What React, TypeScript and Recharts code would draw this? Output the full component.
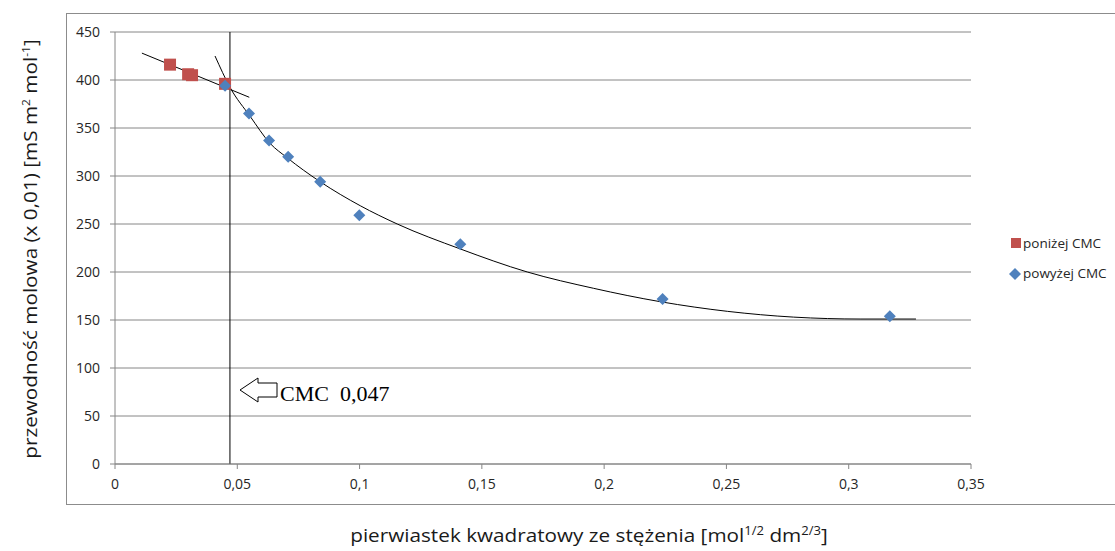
import {
  CartesianGrid,
  ComposedChart,
  Line,
  ReferenceLine,
  Scatter,
  XAxis,
  YAxis,
} from 'recharts'

// square root of concentration vs molar conductivity
const belowCmc = [
  { x: 0.0225, y: 416 },
  { x: 0.0299, y: 406 },
  { x: 0.0315, y: 405 },
  { x: 0.045, y: 396 },
]

const aboveCmc = [
  { x: 0.045, y: 394 },
  { x: 0.0548, y: 365 },
  { x: 0.063, y: 337 },
  { x: 0.0708, y: 320 },
  { x: 0.0839, y: 294 },
  { x: 0.0999, y: 259 },
  { x: 0.1412, y: 229 },
  { x: 0.2239, y: 172 },
  { x: 0.3168, y: 154 },
]

// trend lines
const belowTrend = [
  { x: 0.011, y: 428 },
  { x: 0.0549, y: 382 },
]

const aboveTrend = [
  { x: 0.0409, y: 425 },
  { x: 0.0471, y: 392 },
  { x: 0.0553, y: 362 },
  { x: 0.0634, y: 334 },
  { x: 0.0704, y: 319 },
  { x: 0.0839, y: 294 },
  { x: 0.1003, y: 269 },
  { x: 0.1154, y: 250 },
  { x: 0.1412, y: 224 },
  { x: 0.1686, y: 200 },
  { x: 0.1957, y: 183 },
  { x: 0.2231, y: 169 },
  { x: 0.2505, y: 159 },
  { x: 0.2775, y: 153 },
  { x: 0.305, y: 151 },
  { x: 0.3275, y: 151 },
]

const xTicks = [0, 0.05, 0.1, 0.15, 0.2, 0.25, 0.3, 0.35]
const yTicks = [0, 50, 100, 150, 200, 250, 300, 350, 400, 450]
const cmcValue = 0.047

const RED = '#C0504D'
const BLUE = '#4F81BD'
const AXIS = '#868686'
const FONT = '"Open Sans", sans-serif'

function SquareDot({ cx, cy }: { cx?: number; cy?: number }) {
  if (cx == null || cy == null) return null
  return <rect x={cx - 6} y={cy - 6} width={12} height={12} fill={RED} />
}

function DiamondDot({ cx, cy }: { cx?: number; cy?: number }) {
  if (cx == null || cy == null) return null
  const r = 6
  return <polygon points={`${cx},${cy - r} ${cx + r},${cy} ${cx},${cy + r} ${cx - r},${cy}`} fill={BLUE} />
}

const commaFormat = (v: number) => String(v).replace('.', ',')

export default function App() {
  return (
    <div style={{ position: 'absolute', left: 0, top: 0, width: 1115, height: 551, overflow: 'hidden', background: '#fff', fontFamily: FONT }}>
      <div style={{ position: 'absolute', left: 66, top: 13, width: 1100, height: 490, border: '1px solid #8c8c8c' }} />

      <div style={{ position: 'absolute', left: 0, top: 0 }}>
        <ComposedChart width={1115} height={551} margin={{ top: 32, right: 144, bottom: 0, left: 0 }}>
          <CartesianGrid horizontal vertical={false} stroke={AXIS} strokeWidth={1} />
          <XAxis
            dataKey="x"
            type="number"
            domain={[0, 0.35]}
            ticks={xTicks}
            tickFormatter={commaFormat}
            height={87}
            stroke={AXIS}
            tickSize={5}
            tickMargin={10}
            tick={{ fontSize: 14, fill: '#262626', fontFamily: FONT }}
          />
          <YAxis
            dataKey="y"
            type="number"
            domain={[0, 450]}
            ticks={yTicks}
            width={115}
            stroke={AXIS}
            tickSize={5}
            tickMargin={10}
            tick={{ fontSize: 14, fill: '#262626', fontFamily: FONT }}
          />
          <ReferenceLine x={cmcValue} stroke="#000" strokeWidth={1} />
          <Scatter data={belowCmc} dataKey="y" shape={<SquareDot />} isAnimationActive={false} />
          <Scatter data={aboveCmc} dataKey="y" shape={<DiamondDot />} isAnimationActive={false} />
          <Line data={belowTrend} dataKey="y" type="linear" dot={false} stroke="#000" strokeWidth={1} isAnimationActive={false} />
          <Line data={aboveTrend} dataKey="y" type="monotone" dot={false} stroke="#000" strokeWidth={1} isAnimationActive={false} />
        </ComposedChart>
      </div>

      {/* CMC annotation */}
      <svg style={{ position: 'absolute', left: 0, top: 0 }} width={1115} height={551}>
        <polygon points="240,390 258,378 258,383 277,383 277,397 258,397 258,402" fill="#fff" stroke="#000" strokeWidth={1} />
        <text x={280} y={401} fontFamily='"Liberation Serif", serif' fontSize={22} fill="#000" style={{ whiteSpace: 'pre' }}>
          CMC  0,047
        </text>
      </svg>

      {/* legend */}
      <div style={{ position: 'absolute', left: 1011, top: 238, width: 10, height: 10, background: RED }} />
      <div style={{ position: 'absolute', left: 1023, top: 234, fontSize: 13.5, color: '#262626', lineHeight: '18px' }}>poniżej CMC</div>
      <svg style={{ position: 'absolute', left: 1009, top: 268 }} width={12} height={12}>
        <polygon points="6,0 12,6 6,12 0,6" fill={BLUE} />
      </svg>
      <div style={{ position: 'absolute', left: 1023, top: 264, fontSize: 13.5, color: '#262626', lineHeight: '18px' }}>powyżej CMC</div>

      {/* axis titles */}
      <div
        style={{
          position: 'absolute',
          left: 30,
          top: 249,
          transform: 'translate(-50%, -50%) rotate(-90deg) scaleX(1.09)',
          whiteSpace: 'nowrap',
          fontSize: 19,
          color: '#1a1a1a',
        }}
      >
        przewodność molowa (x 0,01) [mS m<sup style={{ fontSize: 11 }}>2</sup> mol<sup style={{ fontSize: 11 }}>-1</sup>]
      </div>
      <div
        style={{
          position: 'absolute',
          left: 589,
          top: 535,
          transform: 'translate(-50%, -50%) scaleX(1.09)',
          whiteSpace: 'nowrap',
          fontSize: 19,
          lineHeight: '24px',
          color: '#1a1a1a',
        }}
      >
        pierwiastek kwadratowy ze stężenia [mol<sup style={{ fontSize: 12, lineHeight: 0 }}>1/2</sup> dm<sup style={{ fontSize: 12, lineHeight: 0 }}>2/3</sup>]
      </div>
    </div>
  )
}
